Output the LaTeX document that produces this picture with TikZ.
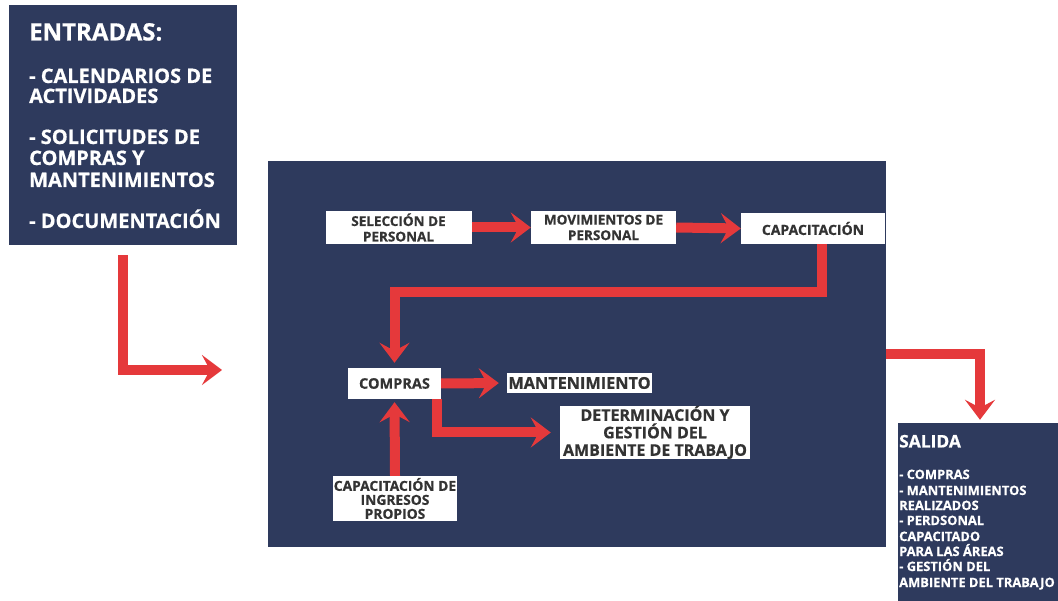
\documentclass[tikz,border=0pt]{standalone}
\usepackage{fontspec}
\setmainfont{Open Sans}[BoldFeatures={FakeBold=0.6}]
\usetikzlibrary{arrows.meta}

\definecolor{navy}{HTML}{2E3A5D}
\definecolor{flow}{HTML}{E5393B}
\definecolor{ink}{HTML}{333333}

\begin{document}
\begin{tikzpicture}[x=1pt,y=-1pt,
  panel/.style={fill=navy, draw=none, inner sep=0pt},
  card/.style={fill=white, draw=none, inner sep=0pt, text=ink, align=center,
    font=\bfseries\fontsize{14}{16}\selectfont},
  flowarrow/.style={draw=flow, line width=10pt,
    -{Stealth[length=20pt,width=30pt,inset=8pt]}},
  wtxt/.style={text=white, inner sep=0pt, anchor=base west}
]
\useasboundingbox (0,0) rectangle (1058,601);
\path[fill=white] (0,0) rectangle (1058,601);

% panels
\node[panel, minimum width=228pt, minimum height=240pt] (ent) at (123,125) {};
\node[panel, minimum width=618pt, minimum height=386pt] (main) at (577,354) {};
\node[panel, minimum width=164pt, minimum height=182pt] (sal) at (980,514) {};

% inputs
\node[wtxt, font=\bfseries\fontsize{24}{26}\selectfont] (e0) at (29,40.5) {ENTRADAS:};
\foreach \i/\y/\t in {1/83/{- CALENDARIOS DE}, 2/103/{ACTIVIDADES},
    3/144/{- SOLICITUDES DE}, 4/165/{COMPRAS Y}, 5/187/{MANTENIMIENTOS},
    6/228/{- DOCUMENTACIÓN}}
  \node[wtxt, font=\bfseries\fontsize{20}{22}\selectfont] (e\i) at (29,\y) {\t};

% outputs
\node[wtxt, font=\bfseries\fontsize{17.4}{19}\selectfont] (s0) at (899,447.5) {SALIDA};
\foreach \i/\y/\t in {1/479/{- COMPRAS}, 2/495/{- MANTENIMIENTOS},
    3/510/{REALIZADOS}, 4/525/{- PERDSONAL}, 5/541/{CAPACITADO},
    6/556/{PARA LAS ÁREAS}, 7/571/{- GESTIÓN DEL},
    8/587/{AMBIENTE DEL TRABAJO}}
  \node[wtxt, font=\bfseries\fontsize{12.9}{15}\selectfont] (s\i) at (899,\y) {\t};

% process cards
\node[card, minimum width=146pt, minimum height=33pt,
  font=\bfseries\fontsize{13.5}{15.5}\selectfont] (sel) at (398.5,227.5) {SELECCIÓN DE\\PERSONAL};
\node[card, minimum width=145pt, minimum height=33pt,
  font=\bfseries\fontsize{13.5}{15.5}\selectfont] (mov) at (603.5,227.5) {MOVIMIENTOS DE\\PERSONAL};
\node[card, minimum width=144pt, minimum height=31pt] (cap) at (813,228.5) {CAPACITACIÓN};
\node[card, minimum width=93pt, minimum height=31pt,
  font=\bfseries\fontsize{14.5}{16}\selectfont] (cmp) at (394.5,383.5) {COMPRAS};
\node[card, minimum width=145pt, minimum height=20pt,
  font=\bfseries\fontsize{16.3}{18}\selectfont] (mnt) at (579.5,383) {MANTENIMIENTO};
\node[card, minimum width=190pt, minimum height=53pt,
  font=\bfseries\fontsize{16}{17.5}\selectfont] (det) at (655,432.5) {DETERMINACIÓN Y\\GESTIÓN DEL\\AMBIENTE DE TRABAJO};
\node[card, minimum width=124pt, minimum height=45pt,
  font=\bfseries\fontsize{13.8}{14}\selectfont] (ing) at (395,498.5) {CAPACITACIÓN DE\\INGRESOS\\PROPIOS};

% free end of the input connector
\coordinate (inEnd) at (222,370);

% connectors
\draw[flowarrow] ([yshift=-10pt]ent.south) |- (inEnd);
\draw[flowarrow] (sel.east) -- (mov.west);
\draw[flowarrow] (mov.east) -- (cap.west);
\draw[flowarrow, shorten >=5pt] ([xshift=9pt]cap.south) -- ++(0,48) -| (cmp.north);
\draw[flowarrow, shorten >=8pt] (cmp.east) -- (mnt.west);
\draw[flowarrow, shorten >=9pt] ([xshift=42pt]cmp.south) |- (det.west);
\draw[flowarrow, shorten >=3pt] (ing.north) -- (cmp.south);
\draw[flowarrow, shorten >=3pt] (main.east) -| (sal.north);
\end{tikzpicture}
\end{document}
